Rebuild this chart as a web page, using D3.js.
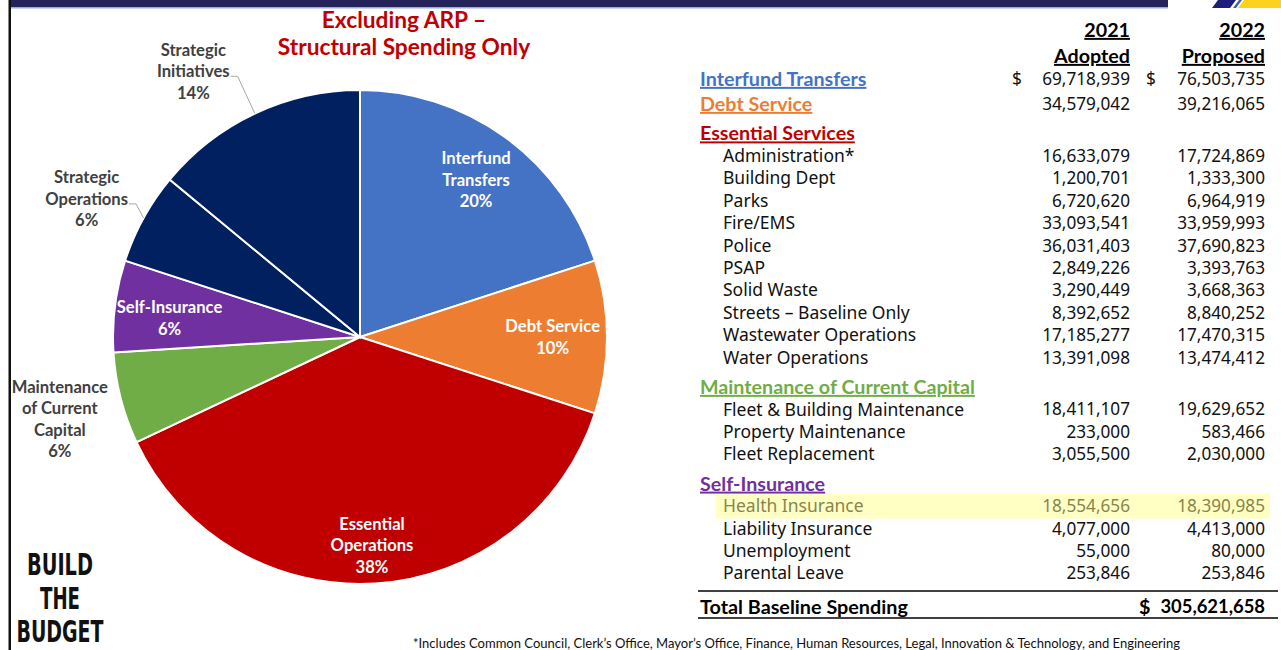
<!DOCTYPE html>
<html>
<head>
<meta charset="utf-8">
<script src="https://cdn.jsdelivr.net/npm/d3@7"></script>
<style>
  html, body { margin: 0; padding: 0; background: #fff; }
  svg { display: block; }
</style>
</head>
<body>
<svg id="chart" width="1281" height="650"></svg>
<script>
/* global d3 */

// Pie data (share of structural spending, %)
const SLICE_NAMES = ['Interfund Transfers', 'Debt Service', 'Essential Operations', 'Maintenance of Current Capital', 'Self-Insurance', 'Strategic Operations', 'Strategic Initiatives']
const SLICE_PCT = [20, 10, 38, 6, 6, 6, 14]

// Table data
const ROW_LABELS = ['Interfund Transfers', 'Debt Service', 'Essential Services', 'Administration*', 'Building Dept', 'Parks', 'Fire/EMS', 'Police', 'PSAP', 'Solid Waste', 'Streets – Baseline Only', 'Wastewater Operations', 'Water Operations', 'Maintenance of Current Capital', 'Fleet & Building Maintenance', 'Property Maintenance', 'Fleet Replacement', 'Self-Insurance', 'Health Insurance', 'Liability Insurance', 'Unemployment', 'Parental Leave']
const ROW_KIND = ['top', 'top', 'group', 'item', 'item', 'item', 'item', 'item', 'item', 'item', 'item', 'item', 'item', 'group', 'item', 'item', 'item', 'group', 'item', 'item', 'item', 'item']
const ADOPTED_2021 = [69718939, 34579042, null, 16633079, 1200701, 6720620, 33093541, 36031403, 2849226, 3290449, 8392652, 17185277, 13391098, null, 18411107, 233000, 3055500, null, 18554656, 4077000, 55000, 253846]
const PROPOSED_2022 = [76503735, 39216065, null, 17724869, 1333300, 6964919, 33959993, 37690823, 3393763, 3668363, 8840252, 17470315, 13474412, null, 19629652, 583466, 2030000, null, 18390985, 4413000, 80000, 253846]
const COLUMN_HEADS = [['2021', 'Adopted'], ['2022', 'Proposed']]
const TOTAL_LABEL = 'Total Baseline Spending'
const TOTAL_VALUE = 305621658
const FOOTNOTE = '*Includes Common Council, Clerk’s Office, Mayor’s Office, Finance, Human Resources, Legal, Innovation & Technology, and Engineering'

// Styles
const SLICE_COLORS = ['#4472c4', '#ed7d31', '#c00000', '#70ad47', '#7030a0', '#002060', '#002060']
const HEAD_COLORS = { 'Interfund Transfers': '#4472c4', 'Debt Service': '#ed7d31', 'Essential Services': '#c00000', 'Maintenance of Current Capital': '#70ad47', 'Self-Insurance': '#7030a0' }
const CALIBRI = 'Lato, "Open Sans", sans-serif'
const SEGOE = '"Noto Sans", "Open Sans", sans-serif'

// label wrapping + placement (radius factor, angle shift in degrees from slice middle)
const LABEL_LINES = [['Interfund', 'Transfers'], ['Debt Service'], ['Essential', 'Operations'], ['Maintenance', 'of Current', 'Capital'], ['Self-Insurance'], ['Strategic', 'Operations'], ['Strategic', 'Initiatives']]
const LABEL_PLACE = [
  { r: 0.79, shift: 0.5, inside: true },
  { r: 0.78, shift: 0, inside: true },
  { r: 0.845, shift: 0.3, inside: true },
  { r: 1.26, shift: -0.9, inside: false },
  { r: 0.775, shift: -1.5, inside: true },
  { r: 1.24, shift: -2.0, inside: false, leader: true },
  { r: 1.27, shift: -6.9, inside: false, leader: true }
]

const svg = d3.select('#chart')

// frame: top band, left rule, corner logo
svg.append('rect').attr('x', 10).attr('y', 0).attr('width', 1158).attr('height', 7).attr('fill', '#25235a')
svg.append('rect').attr('x', 10).attr('y', 7).attr('width', 1158).attr('height', 1.5).attr('fill', '#8fb0e0')
svg.append('rect').attr('x', 8.5).attr('y', 0).attr('width', 2.5).attr('height', 650).attr('fill', '#111')
svg.append('polygon').attr('points', '1218,0 1236,0 1230,8 1212,8').attr('fill', '#1c1c7a')
svg.append('polygon').attr('points', '1239,0 1242,0 1236,8 1233,8').attr('fill', '#3b5fb0')
svg.append('polygon').attr('points', '1244,0 1281,0 1281,8 1238,8').attr('fill', '#fcd21c')

// title
svg.append('text')
  .attr('x', 404).attr('text-anchor', 'middle')
  .style('font-family', CALIBRI).style('font-weight', 700).style('font-size', '22.7px')
  .attr('fill', '#c00000')
  .selectAll('tspan')
  .data(['Excluding ARP –', 'Structural Spending Only'])
  .join('tspan')
  .attr('x', 404)
  .attr('y', (d, i) => 28 + i * 26.5)
  .text(d => d)

// pie
const CX = 360
const CY = 337
const R = 247

const pie = d3.pie().sort(null).value(d => d)
const arcs = pie(SLICE_PCT)
const arc = d3.arc().innerRadius(0).outerRadius(R)

const g = svg.append('g').attr('transform', `translate(${CX},${CY})`)

g.selectAll('path')
  .data(arcs)
  .join('path')
  .attr('d', arc)
  .attr('fill', (d, i) => SLICE_COLORS[i])
  .attr('stroke', '#fff')
  .attr('stroke-width', 2)

const LINE_H = 21.5
const polar = (a, r) => [Math.sin(a) * r, -Math.cos(a) * r]

arcs.forEach((d, i) => {
  const place = LABEL_PLACE[i]
  const mid = (d.startAngle + d.endAngle) / 2
  const [lx, ly] = polar(mid + place.shift * Math.PI / 180, R * place.r)
  const lines = LABEL_LINES[i].concat([SLICE_PCT[i] + '%'])
  const top = ly - (lines.length - 1) * LINE_H / 2

  const t = g.append('text')
    .attr('text-anchor', 'middle')
    .style('font-family', CALIBRI).style('font-weight', 700).style('font-size', '16.6px')
    .attr('fill', place.inside ? '#fff' : '#404040')

  const spans = t.selectAll('tspan')
    .data(lines)
    .join('tspan')
    .attr('x', lx)
    .attr('y', (s, j) => top + j * LINE_H)
    .attr('dy', '0.35em')
    .text(s => s)

  if (place.leader) {
    const w = spans.nodes()[1].getComputedTextLength()
    const sx = lx + w / 2 + 1
    const sy = top + LINE_H + 5
    const [ex, ey] = polar(mid, R)
    g.append('polyline')
      .attr('points', `${sx},${sy} ${sx + 7},${sy} ${ex},${ey}`)
      .attr('fill', 'none')
      .attr('stroke', '#a6a6a6')
      .attr('stroke-width', 1)
  }
})

// build the budget mark
const mark = svg.append('g')
  .style('font-family', '"DejaVu Sans Condensed", "DejaVu Sans", sans-serif')
  .style('font-weight', 700).style('font-size', '31px')
  .attr('fill', '#111')
;[['BUILD', 60, 575, 66], ['THE', 60, 609, 40], ['BUDGET', 60, 642, 87]].forEach(([s, x, y, w]) => {
  mark.append('text')
    .attr('x', x - w / 2).attr('y', y)
    .attr('textLength', w).attr('lengthAdjust', 'spacingAndGlyphs')
    .text(s)
})

// table
const fmt = d3.format(',')
const COL_RIGHT = [1130, 1265]
const DOLLAR_X = [1012, 1146]
const HEAD_X = 700
const ITEM_X = 723
const STEP = { top: 25, group: 29.5, item: 22.4 }

const rowY = []
ROW_KIND.forEach((k, i) => { rowY.push(i === 0 ? 79 : rowY[i - 1] + STEP[k]) })

const table = svg.append('g')

// highlighted row
const hi = ROW_LABELS.indexOf('Health Insurance')
table.append('rect')
  .attr('x', 716).attr('y', rowY[hi] - 12.5)
  .attr('width', 554).attr('height', 25)
  .attr('fill', '#ffffc4')

// column heads
COLUMN_HEADS.forEach((lines, c) => {
  lines.forEach((s, j) => {
    table.append('text')
      .attr('x', COL_RIGHT[c]).attr('y', 30 + j * 26).attr('dy', '0.35em')
      .attr('text-anchor', 'end')
      .style('font-family', CALIBRI).style('font-weight', 700).style('font-size', '19.7px')
      .style('text-decoration', 'underline')
      .attr('fill', '#000')
      .text(s)
  })
})

const rows = table.selectAll('g.row')
  .data(ROW_LABELS.map((label, i) => ({ label, kind: ROW_KIND[i], a: ADOPTED_2021[i], p: PROPOSED_2022[i], y: rowY[i] })))
  .join('g')
  .attr('class', 'row')

rows.append('text')
  .attr('x', d => d.kind === 'item' ? ITEM_X : HEAD_X)
  .attr('y', d => d.y).attr('dy', '0.35em')
  .style('font-family', d => d.kind === 'item' ? SEGOE : CALIBRI)
  .style('font-weight', d => d.kind === 'item' ? 400 : 700)
  .style('font-size', d => d.kind === 'item' ? '17.5px' : '19.7px')
  .style('text-decoration', d => d.kind === 'item' ? 'none' : 'underline')
  .attr('fill', d => d.kind === 'item' ? (d.label === 'Health Insurance' ? '#86864e' : '#111') : HEAD_COLORS[d.label])
  .text(d => d.label)

const valueCell = (key, c) => {
  rows.filter(d => d[key] !== null)
    .append('text')
    .attr('x', COL_RIGHT[c])
    .attr('y', d => d.y).attr('dy', '0.35em')
    .attr('text-anchor', 'end')
    .style('font-family', SEGOE).style('font-size', '17.2px')
    .attr('fill', d => d.label === 'Health Insurance' ? '#86864e' : '#111')
    .text(d => fmt(d[key]))
}
valueCell('a', 0)
valueCell('p', 1)

// dollar signs on first row
DOLLAR_X.forEach(x => {
  table.append('text')
    .attr('x', x).attr('y', rowY[0]).attr('dy', '0.35em')
    .style('font-family', SEGOE).style('font-size', '17.2px')
    .attr('fill', '#111')
    .text('$')
})

// total
const TOTAL_Y = 607
table.append('line').attr('x1', 698).attr('x2', 1278).attr('y1', 591).attr('y2', 591).attr('stroke', '#000').attr('stroke-width', 1.5)
table.append('line').attr('x1', 698).attr('x2', 1278).attr('y1', 618).attr('y2', 618).attr('stroke', '#000').attr('stroke-width', 1.5)
table.append('text')
  .attr('x', HEAD_X).attr('y', TOTAL_Y).attr('dy', '0.35em')
  .style('font-family', CALIBRI).style('font-weight', 700).style('font-size', '19.8px')
  .attr('fill', '#000')
  .text(TOTAL_LABEL)
table.append('text')
  .attr('x', 1139).attr('y', TOTAL_Y).attr('dy', '0.35em')
  .style('font-family', CALIBRI).style('font-weight', 700).style('font-size', '19.8px')
  .attr('fill', '#000')
  .text('$')
table.append('text')
  .attr('x', COL_RIGHT[1]).attr('y', TOTAL_Y).attr('dy', '0.35em')
  .attr('text-anchor', 'end')
  .style('font-family', CALIBRI).style('font-weight', 700).style('font-size', '18.4px')
  .attr('fill', '#000')
  .text(fmt(TOTAL_VALUE))

// footnote
svg.append('text')
  .attr('x', 413).attr('y', 648)
  .attr('textLength', 767).attr('lengthAdjust', 'spacingAndGlyphs')
  .style('font-family', CALIBRI).style('font-size', '12.5px')
  .attr('fill', '#111')
  .text(FOOTNOTE)
</script>
</body>
</html>
